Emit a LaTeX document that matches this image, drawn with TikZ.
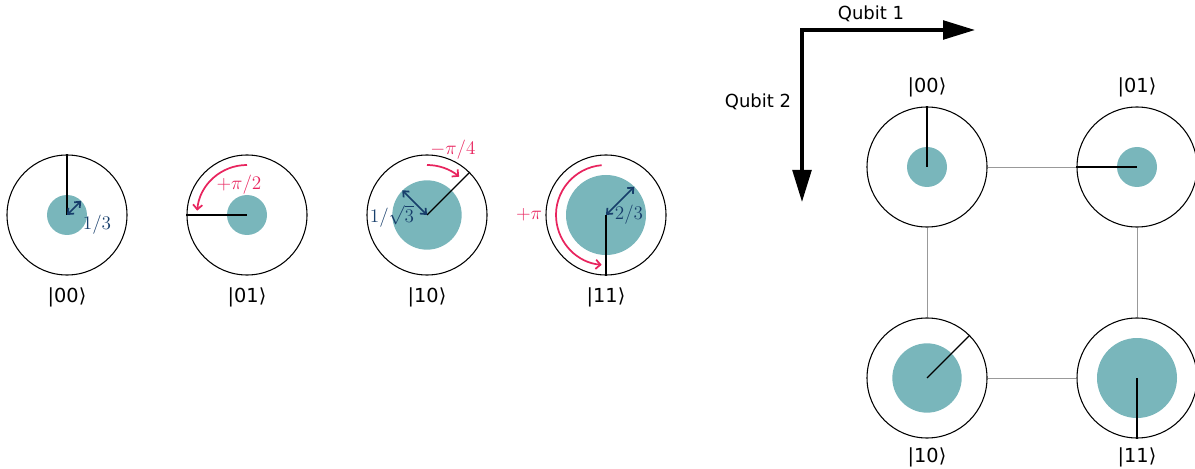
\documentclass[tikz,border=0pt]{standalone}
\usepackage{amsmath}
\usepackage[no-math]{fontspec}
\setmainfont{DejaVu Sans}
\usepackage{xcolor}
\usetikzlibrary{arrows.meta,positioning}

\definecolor{ampteal}{HTML}{79B6BB}
\definecolor{phasered}{HTML}{E8245E}
\definecolor{ampblue}{HTML}{173E6B}

\begin{document}
\begin{tikzpicture}[x=0.75pt, y=0.75pt,
    qcircle/.style={circle, draw, line width=0.8pt, minimum size=90pt, inner sep=0pt},
    disc/.style={circle, fill=ampteal, inner sep=0pt},
    phaseline/.style={line width=0.9pt},
    amparrow/.style={{Straight Barb[length=3.5pt,width=6pt]}-{Straight Barb[length=3.5pt,width=6pt]}, line width=1.3pt, color=ampblue},
    phasearrow/.style={-{Straight Barb[length=3.5pt,width=7pt]}, line width=1.3pt, color=phasered},
    ketlabel/.style={font=\fontsize{14.5}{17}\selectfont},
    amplabel/.style={color=ampblue, font=\fontsize{15}{17}\selectfont},
    phaselabel/.style={color=phasered, font=\fontsize{15}{17}\selectfont},
    link/.style={draw=gray!80, line width=0.6pt},
    axis/.style={-{Triangle[length=24pt,width=14pt]}, line width=2.6pt, line join=miter}
]
\useasboundingbox (0,0) rectangle (1195,468);

% left row: the four basis states
\node[disc, minimum size=30pt] (d1) at (67,253)  {};
\node[disc, minimum size=30pt] (d2) at (247,253) {};
\node[disc, minimum size=52pt] (d3) at (427,253) {};
\node[disc, minimum size=60pt] (d4) at (606,253) {};
\node[qcircle] (c1) at (67,253)  {};
\node[qcircle] (c2) at (247,253) {};
\node[qcircle] (c3) at (427,253) {};
\node[qcircle] (c4) at (606,253) {};
\draw[phaseline, line width=1.3pt] (c1.center) -- (c1.north);
\draw[phaseline] (c2.center) -- (c2.west);
\draw[phaseline] (c3.center) -- (c3.north east);
\draw[phaseline] (c4.center) -- (c4.south);

\draw[amparrow] (c1.center) -- ++(45:20);
\draw[amparrow] (c3.center) -- ++(135:35);
\draw[amparrow] (c4.center) -- ++(45:40);
\node[amplabel] (a1) at (97,243)  {$1/3$};
\node[amplabel] (a3) at (392,252) {$1/\sqrt{3}$};
\node[amplabel] (a4) at (629,253) {$2/3$};

\draw[phasearrow] ([shift={(90:50)}]c2.center) arc[start angle=90, end angle=175, radius=37.5pt];
\draw[phasearrow] ([shift={(90:50)}]c3.center) arc[start angle=90, end angle=50, radius=37.5pt];
\draw[phasearrow] ([shift={(95:50)}]c4.center) arc[start angle=95, end angle=265, radius=37.5pt];
\node[phaselabel] (p2) at (239,283) {$+\pi/2$};
\node[phaselabel] (p3) at (453,318) {$-\pi/4$};
\node[phaselabel] (p4) at (529,253) {$+\pi$};

\node[ketlabel] (k1) at (67,171)  {|00⟩};
\node[ketlabel] (k2) at (247,171) {|01⟩};
\node[ketlabel] (k3) at (427,171) {|10⟩};
\node[ketlabel] (k4) at (606,171) {|11⟩};

% right: the same states on a grid
\coordinate (corner) at (802,438);
\coordinate (q1end) at (975,438);
\coordinate (q2end) at (802,266);
\draw[axis] (corner) -- (q1end);
\draw[axis] (corner) -- (q2end);
\draw[line width=2.6pt] ([xshift=-1.3pt]corner) -- ([xshift=1pt]corner);
\node[ketlabel, font=\fontsize{13.5}{16}\selectfont] (lq1) at (871,454) {Qubit 1};
\node[ketlabel, font=\fontsize{13.5}{16}\selectfont] (lq2) at (758,366) {Qubit 2};

\node[disc, minimum size=30pt] (e00) at (927,301)  {};
\node[disc, minimum size=30pt] (e01) at (1137,301) {};
\node[disc, minimum size=52pt] (e10) at (927,90)   {};
\node[disc, minimum size=60pt] (e11) at (1137,90)  {};
\node[qcircle] (g00) at (927,301)  {};
\node[qcircle] (g01) at (1137,301) {};
\node[qcircle] (g10) at (927,90)   {};
\node[qcircle] (g11) at (1137,90)  {};
\foreach \a/\b in {g00/g01,g00/g10,g01/g11,g10/g11}{\draw[link] (\a) -- (\b);}
\draw[phaseline] (g00.center) -- (g00.north);
\draw[phaseline] (g01.center) -- (g01.west);
\draw[phaseline] (g10.center) -- (g10.north east);
\draw[phaseline] (g11.center) -- (g11.south);

\node[ketlabel] (h00) at (927,381)  {|00⟩};
\node[ketlabel] (h01) at (1137,381) {|01⟩};
\node[ketlabel] (h10) at (927,11)   {|10⟩};
\node[ketlabel] (h11) at (1137,11)  {|11⟩};
\end{tikzpicture}
\end{document}
